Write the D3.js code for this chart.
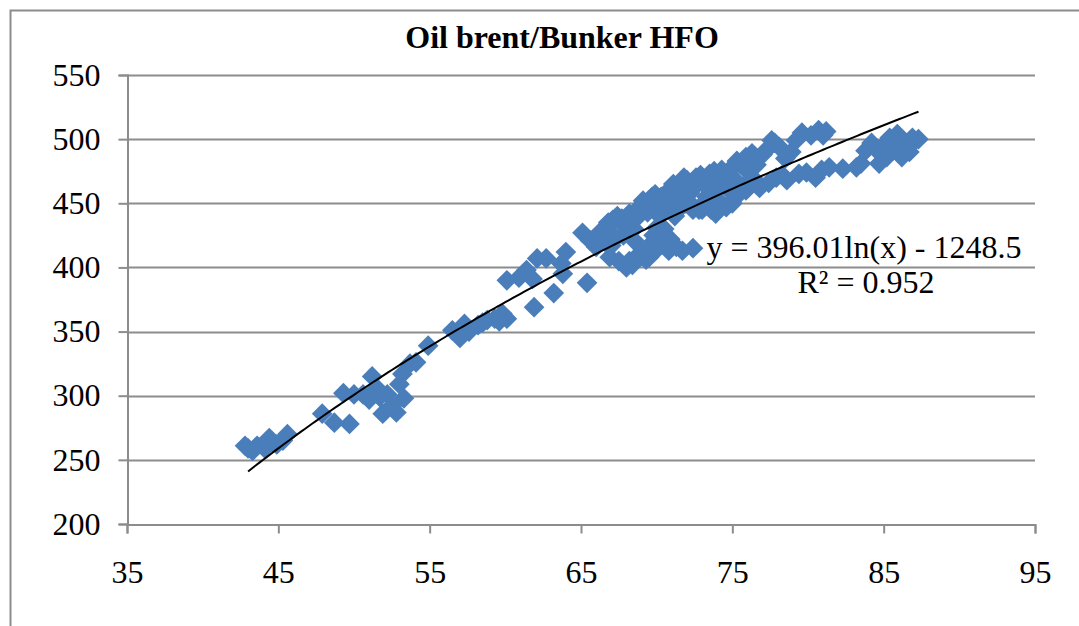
<!DOCTYPE html>
<html>
<head>
<meta charset="utf-8">
<script src="https://cdn.jsdelivr.net/npm/d3@7"></script>
<style>
    html, body { margin: 0; padding: 0; background: #fff; }
    #chart { width: 1079px; height: 626px; }
    text { font-family: "Liberation Serif", "Times New Roman", serif; fill: #000; }
</style>
</head>
<body>
<div id="chart"></div>
<script>
// brent price (x) and bunker HFO price (y)
const brent = [
    42.8, 43.3, 43.6, 44.1, 44.4, 44.9, 45.3, 45.6, 47.9, 48.7,
    49.3, 49.7, 50.0, 50.6, 51.0, 51.2, 51.5, 51.9, 52.2, 52.8,
    53.0, 53.2, 53.3, 53.7, 54.1, 54.9, 56.5, 57.0, 57.3, 57.6,
    58.2, 58.8, 59.3, 59.6, 59.8, 60.1, 60.1, 60.9, 61.4, 61.8,
    61.9, 62.1, 62.7, 63.2, 63.7, 63.8, 64.0, 65.1, 65.4, 65.6,
    66.0, 66.3, 66.6, 66.7, 66.9, 67.1, 67.3, 67.5, 67.7, 67.8,
    68.0, 68.2, 68.4, 68.5, 68.7, 68.9, 69.0, 69.3, 69.3, 69.5,
    69.7, 69.8, 70.0, 70.2, 70.4, 70.5, 70.6, 70.8, 70.8, 71.0,
    71.2, 71.3, 71.5, 71.7, 71.9, 72.0, 72.2, 72.4, 72.4, 72.6,
    72.8, 73.0, 73.2, 73.3, 73.5, 73.7, 73.9, 74.1, 74.3, 74.6,
    74.6, 74.9, 75.0, 75.0, 75.5, 75.5, 75.9, 75.9, 76.0, 76.3,
    76.6, 76.8, 77.2, 77.4, 77.6, 77.9, 78.1, 78.5, 78.6, 79.2,
    79.4, 79.6, 79.9, 80.5, 80.7, 80.9, 81.2, 81.4, 82.3, 83.5,
    83.8, 84.2, 84.7, 85.2, 85.4, 85.6, 85.9, 86.2, 86.5, 86.9,
    87.3,
    // denser band
    66.2, 66.8, 67.0, 67.4, 67.9, 68.3, 68.6, 68.8, 69.1, 69.4,
    69.6, 69.9, 70.1, 70.3, 70.7, 70.9, 71.1, 71.4, 71.6, 71.8,
    72.1, 72.3, 72.7, 72.9, 73.1, 73.4, 73.6, 73.8, 74.0, 74.2,
    74.4, 74.8, 75.2, 75.3, 75.7, 76.1, 76.5, 77.0, 77.8, 78.3,
    78.9, 80.2, 81.0, 84.5, 85.0, 86.0, 86.7, 87.0, 83.2, 71.0,
    69.0, 70.0, 68.2, 43.0, 44.6, 51.7, 52.5, 57.2, 58.5
];
const hfo = [
    261, 257, 261, 259, 267, 262, 265, 270, 286, 279,
    302, 278, 301, 301, 297, 315, 306, 286, 301, 287,
    309, 317, 298, 325, 326, 339, 351, 345, 356, 350,
    355, 359, 360, 358, 364, 360, 390, 392, 398, 391,
    369, 407, 407, 380, 403, 395, 412, 427, 388, 421,
    416, 428, 420, 431, 408, 437, 423, 405, 438, 425,
    400, 442, 402, 430, 445, 411, 447, 406, 450, 408,
    455, 425, 431, 440, 419, 430, 452, 460, 413, 455,
    440, 416, 462, 413, 450, 468, 458, 445, 415, 470,
    445, 445, 464, 455, 473, 460, 442, 452, 476, 447,
    470, 465, 478, 450, 481, 458, 486, 460, 475, 489,
    480, 462, 491, 466, 499, 470, 494, 485, 468, 499,
    473, 505, 474, 470, 507, 476, 506, 478, 477, 481,
    491, 497, 481, 486, 501, 491, 504, 486, 494, 501,
    500,
    425, 435, 417, 440, 432, 437, 420, 440, 452, 443,
    418, 457, 447, 455, 445, 422, 465, 452, 447, 470,
    462, 449, 465, 472, 450, 467, 445, 475, 465, 448,
    472, 460, 468, 483, 463, 484, 468, 488, 497, 472,
    490, 503, 503, 492, 495, 497, 490, 498, 478, 417,
    410, 414, 405, 259, 264, 299, 292, 349, 357
];
const xTicks = [35, 45, 55, 65, 75, 85, 95];
const yTicks = [200, 250, 300, 350, 400, 450, 500, 550];

// logarithmic trendline y = a*ln(x) + b
const trendA = 396.01;
const trendB = -1248.5;
const trendRange = [43, 87.3];

const FONT = "'Liberation Serif', 'Times New Roman', serif";

/**
 * Scatter chart with a log trendline, drawn into one svg.
 */
class ScatterChart {
    constructor (options) {
        this.width = options.width;
        this.height = options.height;
        this.margins = options.margins;
        this.svg = d3.select(options.container).append("svg")
            .attr("width", this.width)
            .attr("height", this.height);

        this.x = d3.scaleLinear().domain([35, 95])
            .range([this.margins.left, this.width - this.margins.right]);
        this.y = d3.scaleLinear().domain([200, 550])
            .range([this.height - this.margins.bottom, this.margins.top]);
    }

    render () {
        this._addFrame();
        this._addGrid();
        this._addAxes();
        this._addPoints();
        this._addTrend();
        this._addTexts();
        return this;
    }

    _addFrame () {
        // chart area border (only top and left show in the picture)
        this.svg.append("path")
            .attr("d", `M10.5,${this.height} V10.5 H${this.width}`)
            .attr("fill", "none")
            .attr("stroke", "#8c8c8c")
            .attr("stroke-width", 2);
    }

    _addGrid () {
        this.svg.append("g")
            .selectAll("line")
            .data(yTicks.slice(1))
            .join("line")
                .attr("x1", this.x(35))
                .attr("x2", this.x(95))
                .attr("y1", d => Math.round(this.y(d)) + 0.5)
                .attr("y2", d => Math.round(this.y(d)) + 0.5)
                .attr("stroke", "#8c8c8c")
                .attr("stroke-width", 2);
    }

    _addAxes () {
        var xAxis = d3.axisBottom(this.x).tickValues(xTicks)
                .tickSize(9).tickPadding(27),
            yAxis = d3.axisLeft(this.y).tickValues(yTicks)
                .tickSize(9).tickPadding(18);

        var gx = this.svg.append("g")
            .attr("transform", `translate(0, ${Math.round(this.y(200)) + 0.5})`)
            .call(xAxis);
        var gy = this.svg.append("g")
            .attr("transform", `translate(${Math.round(this.x(35)) + 0.5}, 0)`)
            .call(yAxis);

        [gx, gy].forEach(g => {
            g.selectAll("path, line").attr("stroke", "#8c8c8c").attr("stroke-width", 2);
            g.selectAll("text")
                .style("font-family", FONT)
                .style("font-size", "32px")
                .attr("fill", "#000");
        });
    }

    _addPoints () {
        var diamond = d3.symbol(d3.symbolSquare, 215);
        this.svg.append("g")
            .selectAll("path")
            .data(d3.zip(brent, hfo))
            .join("path")
                .attr("d", diamond)
                .attr("transform", d => `translate(${this.x(d[0])}, ${this.y(d[1])}) rotate(45)`)
                .attr("fill", "#4a7ebb");
    }

    _addTrend () {
        var pts = d3.range(trendRange[0], trendRange[1], 0.25).concat([trendRange[1]]);
        var line = d3.line()
            .x(d => this.x(d))
            .y(d => this.y(trendA * Math.log(d) + trendB));
        this.svg.append("path")
            .datum(pts)
            .attr("d", line)
            .attr("fill", "none")
            .attr("stroke", "#000")
            .attr("stroke-width", 2);
    }

    _addTexts () {
        this.svg.append("text")
            .attr("x", 562).attr("y", 48)
            .attr("text-anchor", "middle")
            .style("font-family", FONT)
            .style("font-size", "32px")
            .style("font-weight", "bold")
            .text("Oil brent/Bunker HFO");

        this.svg.append("text")
            .attr("x", 864).attr("y", 258)
            .attr("text-anchor", "middle")
            .style("font-family", FONT)
            .style("font-size", "32px")
            .text(`y = ${trendA}ln(x) - ${-trendB}`);
        this.svg.append("text")
            .attr("x", 866).attr("y", 293)
            .attr("text-anchor", "middle")
            .style("font-family", FONT)
            .style("font-size", "32px")
            .text("R² = 0.952");
    }
}

new ScatterChart({
    container: "#chart",
    width: 1079,
    height: 626,
    margins: {top: 75, right: 44, bottom: 102, left: 127}
}).render();
</script>
</body>
</html>
